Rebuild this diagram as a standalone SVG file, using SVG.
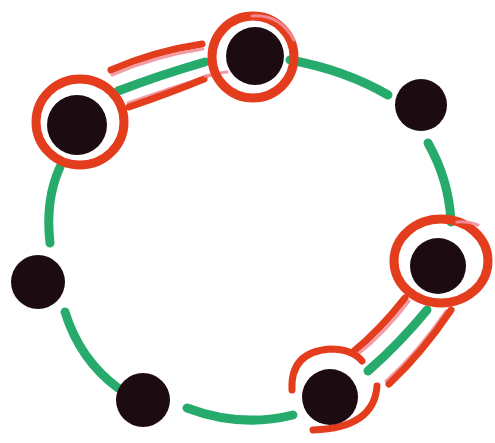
<svg xmlns="http://www.w3.org/2000/svg" width="495" height="443" viewBox="0 0 495 443">
<style>
.g{fill:none;stroke:#26ab6d;stroke-width:9;stroke-linecap:round}
.r{fill:none;stroke:#e43d1e;stroke-width:7;stroke-linecap:round}
.p{fill:none;stroke:#f3909b;stroke-width:3;stroke-linecap:round;opacity:0.9}
.ring{fill:none;stroke:#e43d1e;stroke-width:9}
.dot{fill:#1c0c12}
</style>
<rect width="495" height="443" fill="#ffffff"/>
<g id="connectors">
<path class="g" d="M60,167 Q45,200 50,243"/>
<path class="g" d="M65,312 Q80,360 118,388"/>
<path class="g" d="M187,408 Q240,428 293,415"/>
<path class="g" d="M290,60 Q345,70 388,95"/>
<path class="g" d="M428,143 Q449,180 451,222"/>
<path class="r" d="M111,70 Q155,51 202,44"/>
<path class="p" d="M112,75 Q156,56 203,49"/>
<path class="g" d="M118,91 Q160,75 205,62"/>
<path class="p" d="M128,103 Q170,88 212,75"/>
<path class="r" d="M129,107 Q170,93 204,79"/>
<path class="p" d="M205,76 Q216,73 227,72"/>
<path class="r" d="M405,298 Q380,330 353,352"/>
<path class="p" d="M409,301 Q385,333 357,355"/>
<path class="g" d="M427,310 Q400,343 368,371"/>
<path class="p" d="M446,311 Q417,353 386,381"/>
<path class="r" d="M451,310 Q422,353 389,384"/>
</g>
<g id="node1">
<ellipse class="ring" cx="80" cy="122" rx="44" ry="43" stroke-width="10"/>
<circle class="dot" cx="77" cy="125" r="30"/>
</g>
<g id="node2">
<circle class="ring" cx="253" cy="57" r="41"/>
<path class="p" d="M252,16 Q280,14 294,40" stroke-width="4"/>
<circle class="dot" cx="255" cy="56" r="29"/>
</g>
<g id="node3">
<circle class="dot" cx="421" cy="105" r="26"/>
</g>
<g id="node4">
<ellipse class="ring" cx="441" cy="261" rx="47" ry="42" stroke-width="8"/>
<path class="p" d="M457,222 Q468,221 478,225" stroke-width="4"/>
<circle class="dot" cx="438" cy="266" r="28"/>
</g>
<g id="node5">
<path class="r" d="M292,390 Q290,352 330,349 Q352,349 362,361"/>
<path class="r" d="M377,386 Q374,428 313,430"/>
<circle class="dot" cx="330" cy="397" r="28"/>
</g>
<g id="node6">
<circle class="dot" cx="143" cy="400" r="27"/>
</g>
<g id="node7">
<circle class="dot" cx="38" cy="282" r="27"/>
</g>
</svg>
